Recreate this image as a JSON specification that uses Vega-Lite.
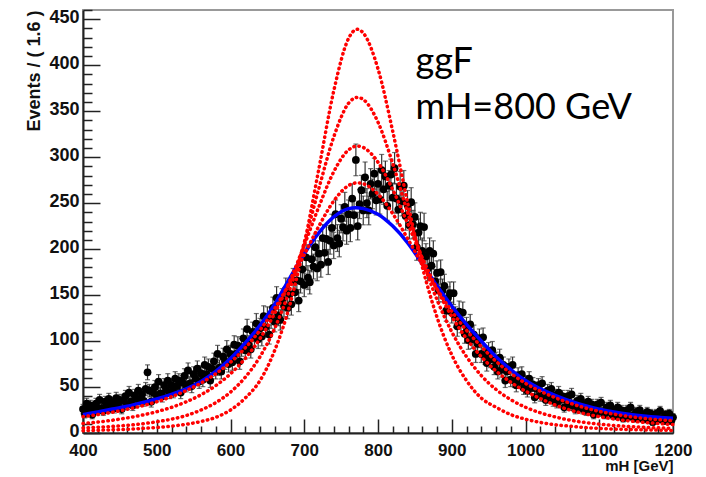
{
  "$schema": "https://vega.github.io/schema/vega-lite/v6.json",
  "width": 590,
  "height": 423,
  "autosize": "none",
  "padding": {"left": 83, "top": 10, "right": 33, "bottom": 44},
  "background": "white",
  "config": {
    "view": {"stroke": "#999999", "strokeWidth": 2},
    "axis": {
      "grid": false,
      "labelFont": "Liberation Sans", "labelFontWeight": "bold", "labelFontSize": 18, "labelColor": "#111111",
      "titleFont": "Liberation Sans", "titleFontWeight": "bold", "titleFontSize": 18, "titleColor": "#111111",
      "tickColor": "#222222", "tickWidth": 1.5, "domainColor": "#222222", "domainWidth": 2
    }
  },
  "datasets": {
    "obs": [
      {"m":400,"n":26,"e":5.1},{"m":402.5,"n":21,"e":4.6},{"m":405,"n":32,"e":5.7},{"m":407.5,"n":25,"e":5},{"m":410,"n":30,"e":5.5},{"m":412.5,"n":20,"e":4.5},{"m":415,"n":28,"e":5.3},{"m":417.5,"n":32,"e":5.7},
      {"m":420,"n":25,"e":5},{"m":422.5,"n":36,"e":6},{"m":425,"n":27,"e":5.2},{"m":427.5,"n":24,"e":4.9},{"m":430,"n":34,"e":5.8},{"m":432.5,"n":30,"e":5.5},{"m":435,"n":37,"e":6.1},{"m":437.5,"n":27,"e":5.2},
      {"m":440,"n":33,"e":5.7},{"m":442.5,"n":27,"e":5.2},{"m":445,"n":38,"e":6.2},{"m":447.5,"n":31,"e":5.6},{"m":450,"n":36,"e":6},{"m":452.5,"n":26,"e":5.1},{"m":455,"n":35,"e":5.9},{"m":457.5,"n":40,"e":6.3},
      {"m":460,"n":31,"e":5.6},{"m":462.5,"n":44,"e":6.6},{"m":465,"n":34,"e":5.8},{"m":467.5,"n":30,"e":5.5},{"m":470,"n":41,"e":6.4},{"m":472.5,"n":37,"e":6.1},{"m":475,"n":46,"e":6.8},{"m":477.5,"n":35,"e":5.9},
      {"m":480,"n":42,"e":6.5},{"m":482.5,"n":35,"e":5.9},{"m":485,"n":48,"e":6.9},{"m":487.5,"n":66,"e":8.1},{"m":490,"n":46,"e":6.8},{"m":492.5,"n":34,"e":5.8},{"m":495,"n":44,"e":6.6},{"m":497.5,"n":50,"e":7.1},
      {"m":500,"n":41,"e":6.4},{"m":502.5,"n":56,"e":7.5},{"m":505,"n":43,"e":6.6},{"m":507.5,"n":40,"e":6.3},{"m":510,"n":52,"e":7.2},{"m":512.5,"n":47,"e":6.9},{"m":515,"n":57,"e":7.5},{"m":517.5,"n":44,"e":6.6},
      {"m":520,"n":52,"e":7.2},{"m":522.5,"n":45,"e":6.7},{"m":525,"n":59,"e":7.7},{"m":527.5,"n":51,"e":7.1},{"m":530,"n":57,"e":7.5},{"m":532.5,"n":44,"e":6.6},{"m":535,"n":55,"e":7.4},{"m":537.5,"n":62,"e":7.9},
      {"m":540,"n":52,"e":7.2},{"m":542.5,"n":68,"e":8.2},{"m":545,"n":54,"e":7.3},{"m":547.5,"n":51,"e":7.1},{"m":550,"n":64,"e":8},{"m":552.5,"n":59,"e":7.7},{"m":555,"n":70,"e":8.4},{"m":557.5,"n":56,"e":7.5},
      {"m":560,"n":65,"e":8.1},{"m":562.5,"n":58,"e":7.6},{"m":565,"n":74,"e":8.6},{"m":567.5,"n":64,"e":8},{"m":570,"n":72,"e":8.5},{"m":572.5,"n":57,"e":7.5},{"m":575,"n":70,"e":8.4},{"m":577.5,"n":78,"e":8.8},
      {"m":580,"n":67,"e":8.2},{"m":582.5,"n":86,"e":9.3},{"m":585,"n":71,"e":8.4},{"m":587.5,"n":67,"e":8.2},{"m":590,"n":83,"e":9.1},{"m":592.5,"n":78,"e":8.8},{"m":595,"n":91,"e":9.5},{"m":597.5,"n":75,"e":8.7},
      {"m":600,"n":86,"e":9.3},{"m":602.5,"n":77,"e":8.8},{"m":605,"n":96,"e":9.8},{"m":607.5,"n":86,"e":9.3},{"m":610,"n":95,"e":9.7},{"m":612.5,"n":78,"e":8.8},{"m":615,"n":93,"e":9.6},{"m":617.5,"n":103,"e":10.1},
      {"m":620,"n":90,"e":9.5},{"m":622.5,"n":113,"e":10.6},{"m":625,"n":96,"e":9.8},{"m":627.5,"n":91,"e":9.5},{"m":630,"n":110,"e":10.5},{"m":632.5,"n":104,"e":10.2},{"m":635,"n":119,"e":10.9},{"m":637.5,"n":102,"e":10.1},
      {"m":640,"n":114,"e":10.7},{"m":642.5,"n":105,"e":10.2},{"m":645,"n":127,"e":11.3},{"m":647.5,"n":115,"e":10.7},{"m":650,"n":126,"e":11.2},{"m":652.5,"n":107,"e":10.3},{"m":655,"n":125,"e":11.2},{"m":657.5,"n":136,"e":11.7},
      {"m":660,"n":121,"e":11},{"m":662.5,"n":147,"e":12.1},{"m":665,"n":128,"e":11.3},{"m":667.5,"n":123,"e":11.1},{"m":670,"n":145,"e":12},{"m":672.5,"n":138,"e":11.7},{"m":675,"n":156,"e":12.5},{"m":677.5,"n":136,"e":11.7},
      {"m":680,"n":151,"e":12.3},{"m":682.5,"n":140,"e":11.8},{"m":685,"n":166,"e":12.9},{"m":687.5,"n":153,"e":12.4},{"m":690,"n":166,"e":12.9},{"m":692.5,"n":144,"e":12},{"m":695,"n":165,"e":12.8},{"m":697.5,"n":178,"e":13.3},
      {"m":700,"n":161,"e":12.7},{"m":702.5,"n":191,"e":13.8},{"m":705,"n":169,"e":13},{"m":707.5,"n":164,"e":12.8},{"m":710,"n":189,"e":13.7},{"m":712.5,"n":181,"e":13.5},{"m":715,"n":202,"e":14.2},{"m":717.5,"n":179,"e":13.4},
      {"m":720,"n":195,"e":14},{"m":722.5,"n":183,"e":13.5},{"m":725,"n":212,"e":14.6},{"m":727.5,"n":196,"e":14},{"m":730,"n":211,"e":14.5},{"m":732.5,"n":186,"e":13.6},{"m":735,"n":209,"e":14.5},{"m":737.5,"n":223,"e":14.9},
      {"m":740,"n":204,"e":14.3},{"m":742.5,"n":238,"e":15.4},{"m":745,"n":212,"e":14.6},{"m":747.5,"n":206,"e":14.4},{"m":750,"n":233,"e":15.3},{"m":752.5,"n":224,"e":15},{"m":755,"n":246,"e":15.7},{"m":757.5,"n":220,"e":14.8},
      {"m":760,"n":238,"e":15.4},{"m":762.5,"n":223,"e":14.9},{"m":765,"n":255,"e":16},{"m":767.5,"n":237,"e":15.4},{"m":770,"n":297,"e":17.2},{"m":772.5,"n":225,"e":15},{"m":775,"n":249,"e":15.8},{"m":777.5,"n":264,"e":16.2},
      {"m":780,"n":242,"e":15.6},{"m":782.5,"n":278,"e":16.7},{"m":785,"n":250,"e":15.8},{"m":787.5,"n":242,"e":15.6},{"m":790,"n":271,"e":16.5},{"m":792.5,"n":260,"e":16.1},{"m":795,"n":282,"e":16.8},{"m":797.5,"n":253,"e":15.9},
      {"m":800,"n":271,"e":16.5},{"m":802.5,"n":254,"e":15.9},{"m":805,"n":286,"e":16.9},{"m":807.5,"n":265,"e":16.3},{"m":810,"n":279,"e":16.7},{"m":812.5,"n":247,"e":15.7},{"m":815,"n":269,"e":16.4},{"m":817.5,"n":281,"e":16.8},
      {"m":820,"n":256,"e":16},{"m":822.5,"n":288,"e":17},{"m":825,"n":255,"e":16},{"m":827.5,"n":243,"e":15.6},{"m":830,"n":268,"e":16.4},{"m":832.5,"n":252,"e":15.9},{"m":835,"n":269,"e":16.4},{"m":837.5,"n":236,"e":15.4},
      {"m":840,"n":248,"e":15.7},{"m":842.5,"n":226,"e":15},{"m":845,"n":251,"e":15.8},{"m":847.5,"n":227,"e":15.1},{"m":850,"n":235,"e":15.3},{"m":852.5,"n":202,"e":14.2},{"m":855,"n":218,"e":14.8},{"m":857.5,"n":225,"e":15},
      {"m":860,"n":198,"e":14.1},{"m":862.5,"n":224,"e":15},{"m":865,"n":192,"e":13.9},{"m":867.5,"n":179,"e":13.4},{"m":870,"n":198,"e":14.1},{"m":872.5,"n":182,"e":13.5},{"m":875,"n":195,"e":14},{"m":877.5,"n":165,"e":12.8},
      {"m":880,"n":174,"e":13.2},{"m":882.5,"n":155,"e":12.4},{"m":885,"n":175,"e":13.2},{"m":887.5,"n":155,"e":12.4},{"m":890,"n":160,"e":12.6},{"m":892.5,"n":133,"e":11.5},{"m":895,"n":147,"e":12.1},{"m":897.5,"n":152,"e":12.3},
      {"m":900,"n":131,"e":11.4},{"m":902.5,"n":152,"e":12.3},{"m":905,"n":126,"e":11.2},{"m":907.5,"n":116,"e":10.8},{"m":910,"n":132,"e":11.5},{"m":912.5,"n":120,"e":11},{"m":915,"n":131,"e":11.4},{"m":917.5,"n":108,"e":10.4},
      {"m":920,"n":115,"e":10.7},{"m":922.5,"n":101,"e":10},{"m":925,"n":118,"e":10.9},{"m":927.5,"n":102,"e":10.1},{"m":930,"n":107,"e":10.3},{"m":932.5,"n":86,"e":9.3},{"m":935,"n":97,"e":9.8},{"m":937.5,"n":103,"e":10.1},
      {"m":940,"n":86,"e":9.3},{"m":942.5,"n":104,"e":10.2},{"m":945,"n":84,"e":9.2},{"m":947.5,"n":76,"e":8.7},{"m":950,"n":89,"e":9.4},{"m":952.5,"n":80,"e":8.9},{"m":955,"n":90,"e":9.5},{"m":957.5,"n":72,"e":8.5},
      {"m":960,"n":79,"e":8.9},{"m":962.5,"n":67,"e":8.2},{"m":965,"n":82,"e":9.1},{"m":967.5,"n":69,"e":8.3},{"m":970,"n":74,"e":8.6},{"m":972.5,"n":57,"e":7.5},{"m":975,"n":67,"e":8.2},{"m":977.5,"n":72,"e":8.5},
      {"m":980,"n":58,"e":7.6},{"m":982.5,"n":74,"e":8.6},{"m":985,"n":57,"e":7.5},{"m":987.5,"n":52,"e":7.2},{"m":990,"n":63,"e":7.9},{"m":992.5,"n":56,"e":7.5},{"m":995,"n":64,"e":8},{"m":997.5,"n":49,"e":7},
      {"m":1000,"n":55,"e":7.4},{"m":1002.5,"n":46,"e":6.8},{"m":1005,"n":59,"e":7.7},{"m":1007.5,"n":49,"e":7},{"m":1010,"n":53,"e":7.3},{"m":1012.5,"n":39,"e":6.2},{"m":1015,"n":48,"e":6.9},{"m":1017.5,"n":52,"e":7.2},
      {"m":1020,"n":41,"e":6.4},{"m":1022.5,"n":54,"e":7.3},{"m":1025,"n":41,"e":6.4},{"m":1027.5,"n":36,"e":6},{"m":1030,"n":46,"e":6.8},{"m":1032.5,"n":41,"e":6.4},{"m":1035,"n":48,"e":6.9},{"m":1037.5,"n":35,"e":5.9},
      {"m":1040,"n":41,"e":6.4},{"m":1042.5,"n":33,"e":5.7},{"m":1045,"n":44,"e":6.6},{"m":1047.5,"n":36,"e":6},{"m":1050,"n":40,"e":6.3},{"m":1052.5,"n":28,"e":5.3},{"m":1055,"n":36,"e":6},{"m":1057.5,"n":40,"e":6.3},
      {"m":1060,"n":30,"e":5.5},{"m":1062.5,"n":42,"e":6.5},{"m":1065,"n":30,"e":5.5},{"m":1067.5,"n":26,"e":5.1},{"m":1070,"n":35,"e":5.9},{"m":1072.5,"n":30,"e":5.5},{"m":1075,"n":37,"e":6.1},{"m":1077.5,"n":26,"e":5.1},
      {"m":1080,"n":31,"e":5.6},{"m":1082.5,"n":24,"e":4.9},{"m":1085,"n":34,"e":5.8},{"m":1087.5,"n":27,"e":5.2},{"m":1090,"n":31,"e":5.6},{"m":1092.5,"n":20,"e":4.5},{"m":1095,"n":27,"e":5.2},{"m":1097.5,"n":31,"e":5.6},
      {"m":1100,"n":23,"e":4.8},{"m":1102.5,"n":33,"e":5.7},{"m":1105,"n":23,"e":4.8},{"m":1107.5,"n":20,"e":4.5},{"m":1110,"n":28,"e":5.3},{"m":1112.5,"n":24,"e":4.9},{"m":1115,"n":30,"e":5.5},{"m":1117.5,"n":20,"e":4.5},
      {"m":1120,"n":24,"e":4.9},{"m":1122.5,"n":19,"e":4.4},{"m":1125,"n":28,"e":5.3},{"m":1127.5,"n":21,"e":4.6},{"m":1130,"n":25,"e":5},{"m":1132.5,"n":16,"e":4},{"m":1135,"n":22,"e":4.7},{"m":1137.5,"n":25,"e":5},
      {"m":1140,"n":18,"e":4.2},{"m":1142.5,"n":28,"e":5.3},{"m":1145,"n":19,"e":4.4},{"m":1147.5,"n":16,"e":4},{"m":1150,"n":23,"e":4.8},{"m":1152.5,"n":19,"e":4.4},{"m":1155,"n":25,"e":5},{"m":1157.5,"n":16,"e":4},
      {"m":1160,"n":20,"e":4.5},{"m":1162.5,"n":15,"e":3.9},{"m":1165,"n":23,"e":4.8},{"m":1167.5,"n":17,"e":4.1},{"m":1170,"n":21,"e":4.6},{"m":1172.5,"n":12,"e":3.5},{"m":1175,"n":18,"e":4.2},{"m":1177.5,"n":21,"e":4.6},
      {"m":1180,"n":15,"e":3.9},{"m":1182.5,"n":24,"e":4.9},{"m":1185,"n":16,"e":4},{"m":1187.5,"n":13,"e":3.6},{"m":1190,"n":20,"e":4.5},{"m":1192.5,"n":16,"e":4},{"m":1195,"n":21,"e":4.6},{"m":1197.5,"n":13,"e":3.6},
      {"m":1200,"n":17,"e":4.1}
    ],
    "fit": [
      {"m":400,"v":20},{"m":420,"v":23},{"m":440,"v":26},{"m":460,"v":29},{"m":480,"v":33},{"m":500,"v":37},{"m":520,"v":42},
      {"m":540,"v":48},{"m":560,"v":56},{"m":580,"v":67},{"m":600,"v":81},{"m":620,"v":98},{"m":640,"v":117},{"m":660,"v":140},
      {"m":680,"v":168},{"m":700,"v":195},{"m":720,"v":218},{"m":740,"v":235},{"m":760,"v":244},{"m":770,"v":245},{"m":780,"v":244},
      {"m":800,"v":238},{"m":820,"v":225},{"m":840,"v":207},{"m":860,"v":184},{"m":880,"v":160},{"m":900,"v":138},{"m":920,"v":118},
      {"m":940,"v":100},{"m":960,"v":83},{"m":980,"v":69},{"m":1000,"v":57},{"m":1020,"v":48},{"m":1040,"v":41},{"m":1060,"v":35},
      {"m":1080,"v":30},{"m":1100,"v":26},{"m":1120,"v":23},{"m":1140,"v":20.5},{"m":1160,"v":18.5},{"m":1180,"v":17},{"m":1200,"v":16}
    ],
    "red": [
      {"c":"c1","m":400,"v":2.5},{"c":"c1","m":420,"v":3},{"c":"c1","m":440,"v":3.5},{"c":"c1","m":460,"v":4},{"c":"c1","m":480,"v":5},
      {"c":"c1","m":500,"v":6},{"c":"c1","m":520,"v":7.5},{"c":"c1","m":540,"v":9.5},{"c":"c1","m":560,"v":12.5},{"c":"c1","m":580,"v":17},
      {"c":"c1","m":600,"v":25},{"c":"c1","m":620,"v":38},{"c":"c1","m":640,"v":57},{"c":"c1","m":660,"v":90},{"c":"c1","m":680,"v":138},
      {"c":"c1","m":700,"v":205},{"c":"c1","m":720,"v":288},{"c":"c1","m":740,"v":372},{"c":"c1","m":760,"v":429},{"c":"c1","m":772,"v":439},
      {"c":"c1","m":780,"v":435},{"c":"c1","m":800,"v":396},{"c":"c1","m":820,"v":328},{"c":"c1","m":840,"v":251},{"c":"c1","m":860,"v":181},
      {"c":"c1","m":880,"v":126},{"c":"c1","m":900,"v":85},{"c":"c1","m":920,"v":57},{"c":"c1","m":940,"v":38},{"c":"c1","m":960,"v":28},
      {"c":"c1","m":980,"v":20},{"c":"c1","m":1000,"v":15},{"c":"c1","m":1020,"v":11.5},{"c":"c1","m":1040,"v":9},{"c":"c1","m":1060,"v":7.5},
      {"c":"c1","m":1080,"v":6},{"c":"c1","m":1100,"v":5},{"c":"c1","m":1120,"v":4.3},{"c":"c1","m":1140,"v":3.8},{"c":"c1","m":1160,"v":3.4},
      {"c":"c1","m":1180,"v":3.1},{"c":"c1","m":1200,"v":2.8},
      {"c":"c2","m":400,"v":5.5},{"c":"c2","m":420,"v":6.3},{"c":"c2","m":440,"v":7.2},{"c":"c2","m":460,"v":8.4},{"c":"c2","m":480,"v":10},
      {"c":"c2","m":500,"v":12.2},{"c":"c2","m":520,"v":15},{"c":"c2","m":540,"v":19},{"c":"c2","m":560,"v":25},{"c":"c2","m":580,"v":33},
      {"c":"c2","m":600,"v":44.5},{"c":"c2","m":620,"v":60.6},{"c":"c2","m":640,"v":83},{"c":"c2","m":660,"v":114},{"c":"c2","m":680,"v":155},
      {"c":"c2","m":700,"v":207},{"c":"c2","m":720,"v":266.5},{"c":"c2","m":740,"v":322},{"c":"c2","m":760,"v":358.5},{"c":"c2","m":772,"v":365},
      {"c":"c2","m":780,"v":362.7},{"c":"c2","m":800,"v":338},{"c":"c2","m":820,"v":293},{"c":"c2","m":840,"v":240},{"c":"c2","m":860,"v":189},
      {"c":"c2","m":880,"v":145},{"c":"c2","m":900,"v":110},{"c":"c2","m":920,"v":83},{"c":"c2","m":940,"v":62.5},{"c":"c2","m":960,"v":47.4},
      {"c":"c2","m":980,"v":36.3},{"c":"c2","m":1000,"v":28},{"c":"c2","m":1020,"v":22},{"c":"c2","m":1040,"v":17.5},{"c":"c2","m":1060,"v":14},
      {"c":"c2","m":1080,"v":11.5},{"c":"c2","m":1100,"v":9.6},{"c":"c2","m":1120,"v":8.2},{"c":"c2","m":1140,"v":7.1},{"c":"c2","m":1160,"v":6.3},
      {"c":"c2","m":1180,"v":5.6},{"c":"c2","m":1200,"v":5},
      {"c":"c3","m":400,"v":10.3},{"c":"c3","m":420,"v":11.9},{"c":"c3","m":440,"v":13.9},{"c":"c3","m":460,"v":16.4},{"c":"c3","m":480,"v":19.4},
      {"c":"c3","m":500,"v":23.2},{"c":"c3","m":520,"v":27.9},{"c":"c3","m":540,"v":33.9},{"c":"c3","m":560,"v":41.6},{"c":"c3","m":580,"v":51.5},
      {"c":"c3","m":600,"v":64.4},{"c":"c3","m":620,"v":81.1},{"c":"c3","m":640,"v":102.7},{"c":"c3","m":660,"v":130.3},{"c":"c3","m":680,"v":164.4},
      {"c":"c3","m":700,"v":204.2},{"c":"c3","m":720,"v":246.4},{"c":"c3","m":740,"v":284.1},{"c":"c3","m":760,"v":307.8},{"c":"c3","m":772,"v":312},
      {"c":"c3","m":780,"v":310.5},{"c":"c3","m":800,"v":294.4},{"c":"c3","m":820,"v":264.7},{"c":"c3","m":840,"v":228.1},{"c":"c3","m":860,"v":190.6},
      {"c":"c3","m":880,"v":156.2},{"c":"c3","m":900,"v":126.8},{"c":"c3","m":920,"v":102.6},{"c":"c3","m":940,"v":83},{"c":"c3","m":960,"v":67.5},
      {"c":"c3","m":980,"v":55.2},{"c":"c3","m":1000,"v":45.5},{"c":"c3","m":1020,"v":37.5},{"c":"c3","m":1040,"v":30.5},{"c":"c3","m":1060,"v":25},
      {"c":"c3","m":1080,"v":21},{"c":"c3","m":1100,"v":17.8},{"c":"c3","m":1120,"v":15.2},{"c":"c3","m":1140,"v":13.2},{"c":"c3","m":1160,"v":11.6},
      {"c":"c3","m":1180,"v":10.3},{"c":"c3","m":1200,"v":9.2},
      {"c":"c4","m":400,"v":17.8},{"c":"c4","m":420,"v":20},{"c":"c4","m":440,"v":22.6},{"c":"c4","m":460,"v":25.8},{"c":"c4","m":480,"v":29.5},
      {"c":"c4","m":500,"v":34},{"c":"c4","m":520,"v":39.4},{"c":"c4","m":540,"v":46.1},{"c":"c4","m":560,"v":54.3},{"c":"c4","m":580,"v":64.4},
      {"c":"c4","m":600,"v":77},{"c":"c4","m":620,"v":92.6},{"c":"c4","m":640,"v":111.8},{"c":"c4","m":660,"v":135.3},{"c":"c4","m":680,"v":162.9},
      {"c":"c4","m":700,"v":193.8},{"c":"c4","m":720,"v":225.2},{"c":"c4","m":740,"v":252.3},{"c":"c4","m":760,"v":269.1},{"c":"c4","m":772,"v":272},
      {"c":"c4","m":780,"v":271},{"c":"c4","m":800,"v":259.7},{"c":"c4","m":820,"v":238.5},{"c":"c4","m":840,"v":211.7},{"c":"c4","m":860,"v":183.4},
      {"c":"c4","m":880,"v":156.4},{"c":"c4","m":900,"v":132.3},{"c":"c4","m":920,"v":111.7},{"c":"c4","m":940,"v":94},{"c":"c4","m":960,"v":78},
      {"c":"c4","m":980,"v":65},{"c":"c4","m":1000,"v":54},{"c":"c4","m":1020,"v":45.5},{"c":"c4","m":1040,"v":38.5},{"c":"c4","m":1060,"v":32.5},
      {"c":"c4","m":1080,"v":27.5},{"c":"c4","m":1100,"v":23.5},{"c":"c4","m":1120,"v":20.5},{"c":"c4","m":1140,"v":18},{"c":"c4","m":1160,"v":16},
      {"c":"c4","m":1180,"v":14.5},{"c":"c4","m":1200,"v":13.3}
    ]
  },
  "resolve": {"axis": {"x": "independent", "y": "independent"}},
  "layer": [
    {
      "data": {"name": "obs"},
      "mark": {"type": "errorbar", "ticks": {"size": 5, "color": "#333333"}, "color": "#333333", "thickness": 1.2},
      "encoding": {
        "x": {"field": "m", "type": "quantitative", "scale": {"domain": [400, 1200], "nice": false}, "axis": null},
        "y": {"field": "n", "type": "quantitative", "scale": {"domain": [0, 460], "nice": false}, "axis": null},
        "yError": {"field": "e"}
      }
    },
    {
      "data": {"name": "obs"},
      "mark": {"type": "point", "filled": true, "shape": "circle", "size": 60, "color": "#000000", "opacity": 1},
      "encoding": {
        "x": {"field": "m", "type": "quantitative", "scale": {"domain": [400, 1200], "nice": false},
          "axis": {"orient": "bottom", "values": [400,500,600,700,800,900,1000,1100,1200], "format": "d", "tickSize": -14, "labelPadding": 23, "labelFontSize": 17,
            "title": "mH [GeV]", "titleAnchor": "end", "titleAlign": "right", "titleFontSize": 15, "titlePadding": 0, "labelFlush": false}},
        "y": {"field": "n", "type": "quantitative", "scale": {"domain": [0, 460], "nice": false},
          "axis": {"orient": "left", "values": [0,50,100,150,200,250,300,350,400,450], "format": "d", "tickSize": -17, "labelPadding": 21, "labelOffset": -2,
            "title": "Events / ( 1.6 )", "titleAnchor": "end", "titleAlign": "right", "titlePadding": 5}}
      }
    },
    {
      "data": {"name": "fit"},
      "mark": {"type": "line", "color": "#0000ff", "strokeWidth": 3.5, "interpolate": "monotone"},
      "encoding": {
        "x": {"field": "m", "type": "quantitative", "scale": {"domain": [400, 1200], "nice": false},
          "axis": {"orient": "bottom", "values": [420,440,460,480,520,540,560,580,620,640,660,680,720,740,760,780,820,840,860,880,920,940,960,980,1020,1040,1060,1080,1120,1140,1160,1180],
            "tickSize": -7, "labels": false, "domain": false, "title": null}},
        "y": {"field": "v", "type": "quantitative", "scale": {"domain": [0, 460], "nice": false},
          "axis": {"orient": "left", "values": [10,20,30,40,60,70,80,90,110,120,130,140,160,170,180,190,210,220,230,240,260,270,280,290,310,320,330,340,360,370,380,390,410,420,430,440,460],
            "tickSize": -9, "labels": false, "domain": false, "title": null}}
      }
    },
    {
      "data": {"name": "red"},
      "mark": {"type": "line", "color": "#ff0000", "strokeWidth": 3.5, "strokeCap": "round", "strokeDash": [0.5, 4.5], "interpolate": "monotone"},
      "encoding": {
        "x": {"field": "m", "type": "quantitative", "scale": {"domain": [400, 1200], "nice": false}, "axis": null},
        "y": {"field": "v", "type": "quantitative", "scale": {"domain": [0, 460], "nice": false}, "axis": null},
        "detail": {"field": "c", "type": "nominal"}
      }
    },
    {
      "data": {"values": [{"label": "ggF", "x": 851, "y": 391}, {"label": "mH=800 GeV", "x": 851, "y": 342}]},
      "mark": {"type": "text", "font": "Lato", "fontSize": 36, "align": "left", "baseline": "alphabetic", "color": "#000000"},
      "encoding": {
        "x": {"field": "x", "type": "quantitative", "scale": {"domain": [400, 1200], "nice": false}, "axis": null},
        "y": {"field": "y", "type": "quantitative", "scale": {"domain": [0, 460], "nice": false}, "axis": null},
        "text": {"field": "label"}
      }
    }
  ]
}
